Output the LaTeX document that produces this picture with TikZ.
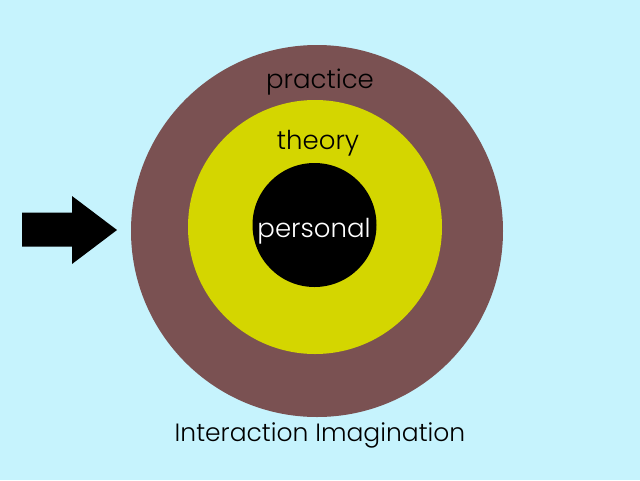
\documentclass[tikz,border=0pt]{standalone}
\usepackage{fontspec}
\setmainfont{Poppins Light}
\definecolor{bgc}{HTML}{C6F3FD}
\definecolor{brownc}{HTML}{7A5152}
\definecolor{yelc}{HTML}{D4D600}
\begin{document}
\begin{tikzpicture}[x=1pt,y=-1pt,
  ring/.style={circle,inner sep=0pt,draw=none},
  lbl/.style={font=\fontsize{26}{30}\selectfont,inner sep=0pt,anchor=base}]
\fill[bgc] (0,0) rectangle (640,480);
\useasboundingbox (0,0) rectangle (640,480);
\node[ring,fill=brownc,minimum size=372pt] (outer) at (317,231) {};
\node[ring,fill=yelc,minimum size=254pt] (mid) at (315,227) {};
\node[ring,fill=black,minimum size=124pt] (inner) at (314.5,225) {};
\node[lbl] (practice) at (320,88) {practice};
\node[lbl] (theory) at (318,149) {theory};
\node[lbl,text=white] (personal) at (314,237) {personal};
\node[lbl,font=\fontsize{25}{30}\selectfont] (ii) at (320,441) {Interaction Imagination};
\fill[black] (22,212.5) -- (72,212.5) -- (72,196) -- (117,230) -- (72,264) -- (72,246.5) -- (22,246.5) -- cycle;
\end{tikzpicture}
\end{document}
